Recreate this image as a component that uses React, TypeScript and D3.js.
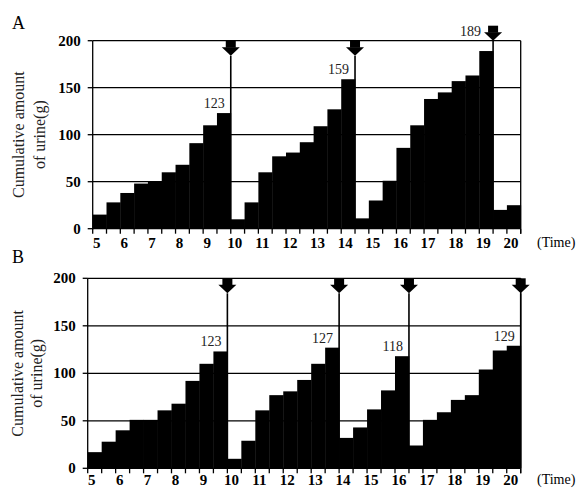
import * as d3 from "d3";

// cumulative urine (g) per half-hour slot, 5:00 -> 20:30
const barsA = [15, 28, 38, 48, 50, 60, 68, 91, 110, 123, 10, 28, 60, 77, 81, 92, 109, 127, 159, 11, 30, 51, 86, 110, 138, 145, 157, 163, 189, 20, 25];
const barsB = [17, 28, 40, 51, 51, 61, 68, 92, 110, 123, 10, 29, 61, 77, 81, 93, 110, 127, 32, 43, 62, 82, 118, 24, 51, 59, 72, 77, 104, 124, 129];

// voiding times (arrows) and the peak amount just before
const voidA = [10, 14.5, 19.5];
const peakA = [123, 159, 189];
const voidB = [10, 14, 16.5, 20.5];
const peakB = [123, 127, 118, 129];

const hourTicks = d3.range(5, 21);
const yTicks = [0, 50, 100, 150, 200];

const FONT = "Liberation Serif, Times New Roman, serif";

type PanelProps = {
  letter: string;
  letterY: number;
  left: number;
  right: number;
  top: number;
  bottom: number;
  bars: number[];
  voids: number[];
  peaks: number[];
  titleX1: number;
  titleX2: number;
  labelDy: number;
};

const Panel = ({ letter, letterY, left, right, top, bottom, bars, voids, peaks, titleX1, titleX2, labelDy }: PanelProps) => {
  const x = d3.scaleLinear().domain([5, 20.5]).range([left, right]);
  const y = d3.scaleLinear().domain([0, 200]).range([bottom, top]);
  const slots = d3.range(5, 21, 0.5);
  const midY = (top + bottom) / 2;

  return (
    <g style={{ fontFamily: FONT }}>
      <text x={12} y={letterY} fontSize={18}>{letter}</text>

      {/* y title */}
      <text transform={`translate(${titleX1},${midY}) rotate(-90)`} textAnchor="middle" fontSize={16} fill="#222">Cumulative amount</text>
      <text transform={`translate(${titleX2},${midY}) rotate(-90)`} textAnchor="middle" fontSize={16} fill="#222">of urine(g)</text>

      {/* grid */}
      {yTicks.slice(1).map((t) => (
        <line key={"g" + t} x1={left} x2={right} y1={y(t)} y2={y(t)} stroke="#000" strokeWidth={1.2} />
      ))}

      {/* bars */}
      {bars.map((v, i) => (
        <rect key={i} x={x(slots[i])} y={y(v)} width={x(slots[i] + 0.5) - x(slots[i]) + 0.4} height={bottom - y(v)} fill="#000" />
      ))}

      {/* frame */}
      <line x1={left} x2={left} y1={top} y2={bottom + 0.5} stroke="#000" strokeWidth={1.3} />
      <line x1={right} x2={right} y1={top} y2={bottom} stroke="#000" strokeWidth={1.3} />
      <line x1={left} x2={right} y1={bottom} y2={bottom} stroke="#000" strokeWidth={1.3} />

      {/* y axis */}
      {yTicks.map((t) => (
        <g key={"y" + t}>
          <line x1={left - 5} x2={left} y1={y(t)} y2={y(t)} stroke="#000" strokeWidth={1.3} />
          <text x={left - 12} y={y(t) + 5} textAnchor="end" fontSize={15} fontWeight="bold">{t}</text>
        </g>
      ))}

      {/* x axis */}
      {d3.range(5, 21, 0.5).concat([20.5]).map((t) => (
        <line key={"t" + t} x1={x(t)} x2={x(t)} y1={bottom} y2={bottom + 5} stroke="#000" strokeWidth={1.3} />
      ))}
      {hourTicks.map((h) => (
        <text key={"h" + h} x={x(h) + 4} y={bottom + labelDy} textAnchor="middle" fontSize={15} fontWeight="bold">{h}</text>
      ))}
      <text x={537} y={bottom + labelDy - 1} fontSize={14}>(Time)</text>

      {/* voiding arrows */}
      {voids.map((t, i) => {
        const ax = x(t);
        const raised = peaks[i] > 180;
        const tip = raised ? top : top + 15;
        const labelY = raised ? top - 5 : y(peaks[i]) - 5;
        return (
          <g key={"v" + t}>
            <line x1={ax} x2={ax} y1={tip} y2={bottom} stroke="#000" strokeWidth={1.6} />
            <rect x={ax - 5} y={tip - 15} width={10} height={7} fill="#000" />
            <path d={`M${ax - 9},${tip - 8.5} L${ax + 9},${tip - 8.5} L${ax},${tip} Z`} fill="#000" />
            <text x={raised ? ax - 12 : ax - 6} y={labelY} textAnchor="end" fontSize={14} fill="#222">{peaks[i]}</text>
          </g>
        );
      })}
    </g>
  );
};

export default function App() {
  return (
    <svg width={580} height={488} style={{ position: "absolute", left: 0, top: 0, background: "#fff" }}>
      <Panel letter="A" letterY={29} left={92.7} right={520.7} top={40.7} bottom={228.7}
        bars={barsA} voids={voidA} peaks={peakA} titleX1={24} titleX2={45} labelDy={19} />
      <Panel letter="B" letterY={263} left={87.7} right={520.7} top={278.3} bottom={468.3}
        bars={barsB} voids={voidB} peaks={peakB} titleX1={23} titleX2={42} labelDy={16.5} />
    </svg>
  );
}
